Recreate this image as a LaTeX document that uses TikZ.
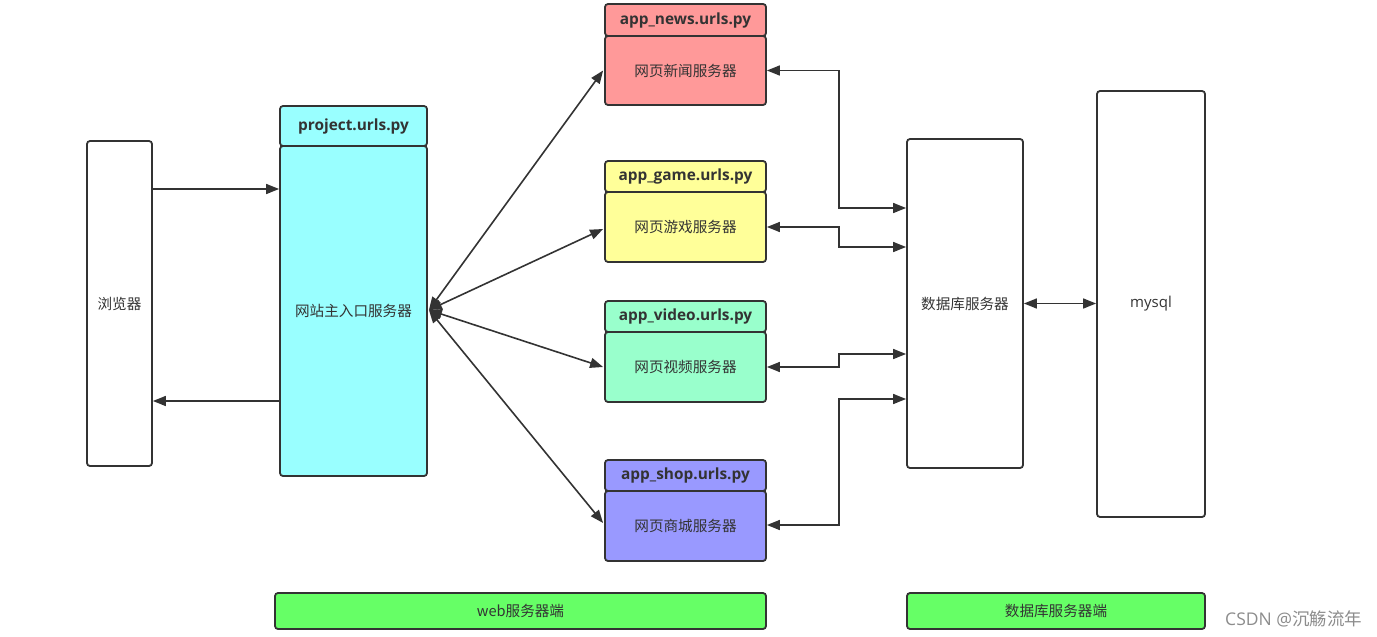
\documentclass[tikz,border=0pt]{standalone}
\usepackage{fontspec}
\setmainfont{Open Sans}
\newfontfamily\cjk{Noto Sans CJK SC}
\usetikzlibrary{arrows.meta,calc}
\definecolor{ln}{HTML}{333333}
\definecolor{tx}{HTML}{333333}
\definecolor{cmain}{HTML}{99FFFF}
\definecolor{cnews}{HTML}{FF9999}
\definecolor{cgame}{HTML}{FFFF99}
\definecolor{cvideo}{HTML}{99FFCC}
\definecolor{cshop}{HTML}{9999FF}
\definecolor{cgreen}{HTML}{66FF66}
\tikzset{
  box/.style={draw=ln, line width=1.8pt, rounded corners=3pt, inner sep=0pt, text=tx, font=\cjk\fontsize{14.6}{16}\selectfont},
  head/.style={box, font=\bfseries\fontsize{15.4}{17}\selectfont},
  arr/.style={draw=ln, line width=1.6pt, -{Triangle[length=13pt,width=10pt]}},
  darr/.style={draw=ln, line width=1.6pt, {Triangle[length=13pt,width=10pt]}-{Triangle[length=13pt,width=10pt]}},
}
\begin{document}
\begin{tikzpicture}[x=1pt,y=-1pt]
\useasboundingbox (0,0) rectangle (1377,637);
\node[box, minimum width=65pt, minimum height=325pt] (browser) at (119.5,303.5) {浏览器};
\node[head, fill=cmain, minimum width=147pt, minimum height=40pt] (projhead) at (353.5,126) {project.urls.py};
\node[box, fill=cmain, minimum width=147pt, minimum height=330pt] (main) at (353.5,311) {网站主入口服务器};

\node[head, fill=cnews, minimum width=161pt, minimum height=32pt] (newshead) at (685.5,20) {app\_news.urls.py};
\node[box, fill=cnews, minimum width=161pt, minimum height=69pt] (news) at (685.5,70.5) {网页新闻服务器};
\node[head, fill=cgame, minimum width=161pt, minimum height=31pt] (gamehead) at (685.5,176.5) {app\_game.urls.py};
\node[box, fill=cgame, minimum width=161pt, minimum height=70pt] (game) at (685.5,227) {网页游戏服务器};
\node[head, fill=cvideo, minimum width=161pt, minimum height=31pt] (videohead) at (685.5,316.5) {app\_video.urls.py};
\node[box, fill=cvideo, minimum width=161pt, minimum height=70pt] (video) at (685.5,367) {网页视频服务器};
\node[head, fill=cshop, minimum width=161pt, minimum height=31pt] (shophead) at (685.5,475.5) {app\_shop.urls.py};
\node[box, fill=cshop, minimum width=161pt, minimum height=70pt] (shop) at (685.5,526) {网页商城服务器};

\node[box, minimum width=116pt, minimum height=329pt] (db) at (965,303.5) {数据库服务器};
\node[box, font=\fontsize{15}{17}\selectfont, minimum width=108pt, minimum height=426pt] (mysql) at (1151,304) {mysql};

\node[box, fill=cgreen, minimum width=491pt, minimum height=36pt] (web) at (520.5,611) {web服务器端};
\node[box, fill=cgreen, minimum width=298pt, minimum height=36pt] (dbend) at (1056,611) {数据库服务器端};

\node[text=black!45, font=\fontsize{17.5}{19}\selectfont, anchor=west, inner sep=0pt] (wm) at (1225,619) {CSDN @{\cjk 沉觞流年}};

% browser <-> main
\coordinate (yA) at (0,189);
\coordinate (yB) at (0,401);
\draw[arr] (browser.east |- yA) -- (main.west |- yA);
\draw[arr] (main.west |- yB) -- (browser.east |- yB);

% main <-> apps
\coordinate (hub) at ($(main.east)+(1,-1)$);
\draw[darr] (hub) -- ($(news.west)+(-1,0)$);
\draw[darr] (hub) -- ($(game.west)+(-1,2)$);
\draw[darr] (hub) -- ($(video.west)+(-1,0)$);
\draw[darr] (hub) -- ($(shop.west)+(-1,-3)$);

% apps <-> db
\draw[darr] (news.east) -- ++(72,0) |- ($(db.west)+(0,-95.5)$);
\draw[darr] (game.east) -- ++(72,0) |- ($(db.west)+(0,-56.5)$);
\draw[darr] (video.east) -- ++(72,0) |- ($(db.west)+(0,50.5)$);
\draw[darr] ($(shop.east)+(0,-1)$) -- ++(72,0) |- ($(db.west)+(0,95.5)$);

% db <-> mysql
\draw[darr] (db.east) -- (mysql.west |- db.east);
\end{tikzpicture}
\end{document}
